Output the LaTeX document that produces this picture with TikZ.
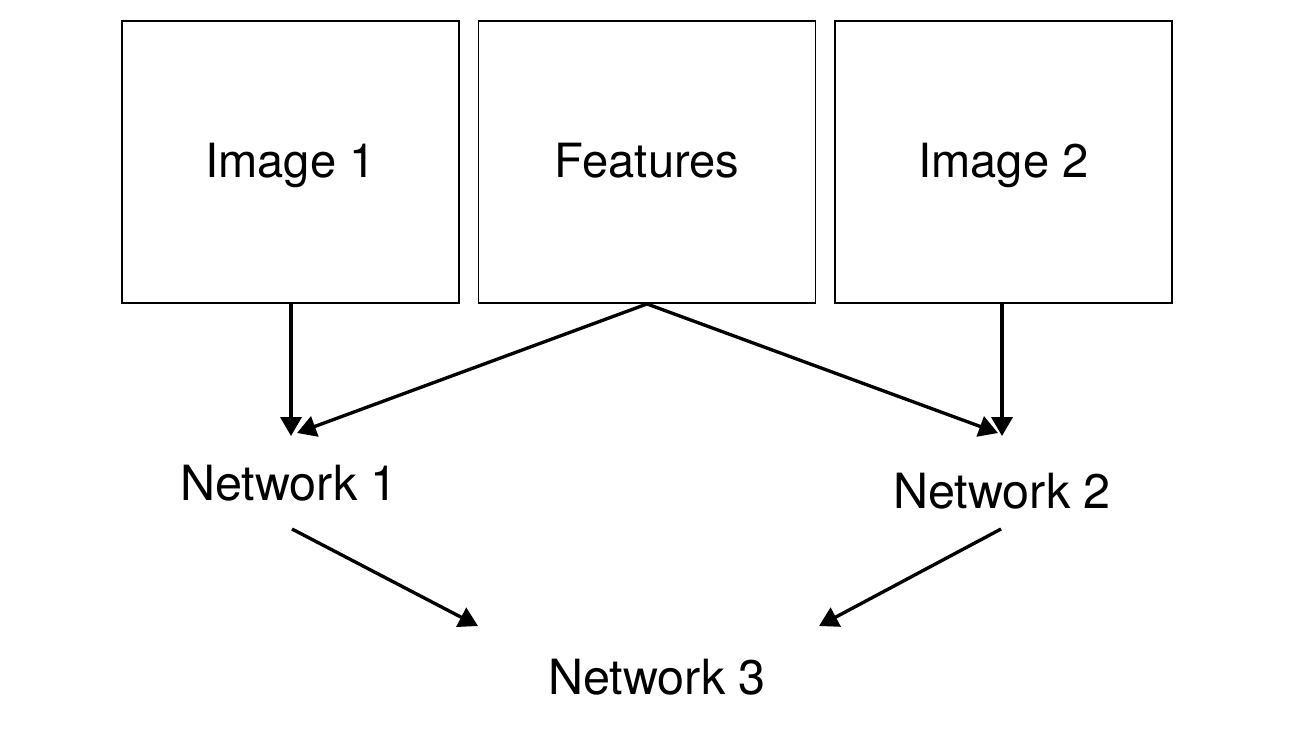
\documentclass[tikz,border=0pt]{standalone}
\usepackage{fontspec}
\setmainfont{TeX Gyre Heros}
\usetikzlibrary{arrows.meta}
\begin{document}
\begin{tikzpicture}[x=0.01cm,y=-0.01cm,
  box/.style={draw,line width=0.5pt,minimum width=3.37cm,minimum height=2.82cm,inner sep=0pt,text height=0.92em,text depth=0.02em,font=\fontsize{13.4}{16}\selectfont},
  lbl/.style={inner sep=0pt,text height=0.72em,text depth=0.02em,font=\fontsize{13.8}{16}\selectfont},
  arr/.style={line width=0.95pt,-{Triangle[length=5.4pt,width=6pt]}}]
\useasboundingbox (0,0) rectangle (1292,746);
\node[box] (img1) at (290.5,162) {Image 1};
\node[box] (feat) at (647,162) {Features};
\node[box] (img2) at (1003.5,162) {Image 2};
\node[lbl] (net1) at (289,488) {Network 1};
\node[lbl] (net2) at (1002,496) {Network 2};
\node[lbl] (net3) at (657,682) {Network 3};
\coordinate (t1) at (291,436);
\coordinate (t1b) at (297,433);
\coordinate (t2) at (1002,436);
\coordinate (t2b) at (998,433);
\coordinate (s1) at (292,529);
\coordinate (s2) at (1001,529);
\coordinate (t3a) at (478,626);
\coordinate (t3b) at (819,626);
\draw[arr] (img1.south -| t1) -- (t1);
\draw[arr] (feat.south) -- (t1b);
\draw[arr] (feat.south) -- (t2b);
\draw[arr] (img2.south -| t2) -- (t2);
\draw[arr] (s1) -- (t3a);
\draw[arr] (s2) -- (t3b);
\end{tikzpicture}
\end{document}
